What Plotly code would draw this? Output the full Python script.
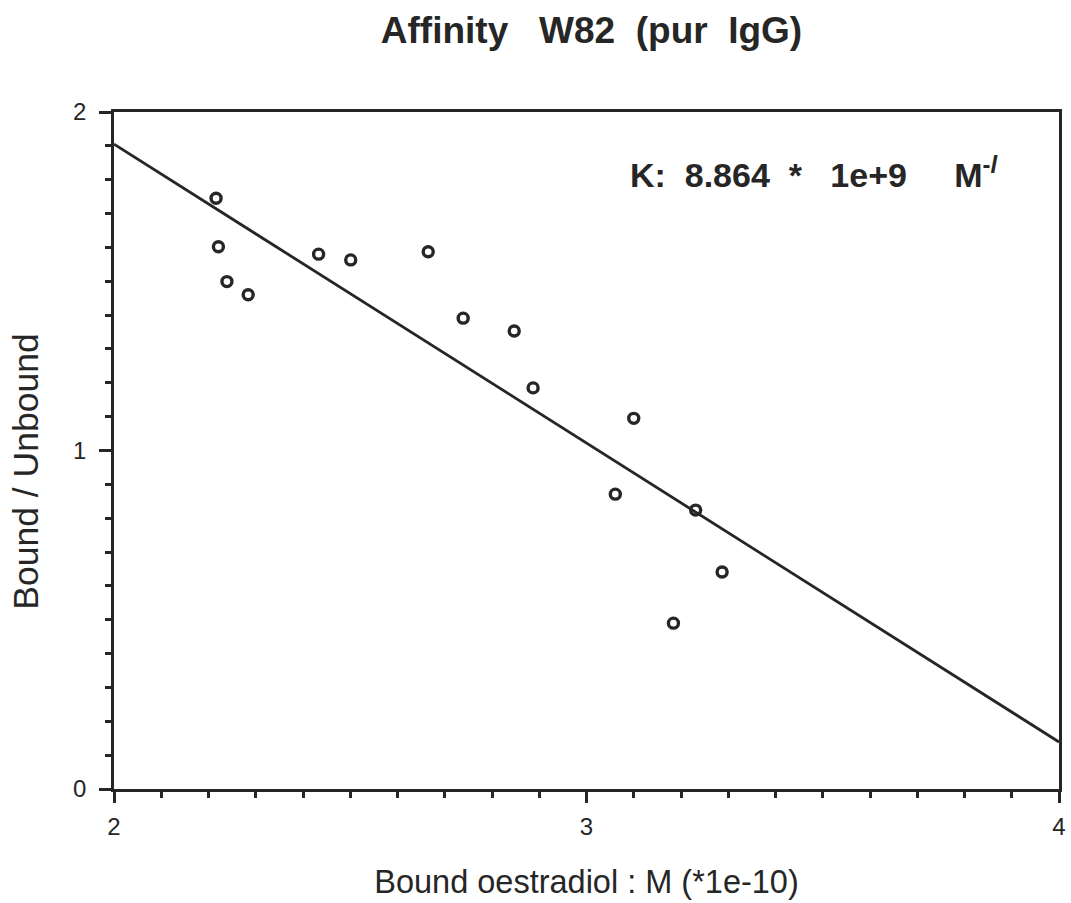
import plotly.graph_objects as go

# Data
bound_x = [2.216, 2.221, 2.239, 2.284, 2.433, 2.501, 2.665, 2.739, 2.847, 2.887,
           3.100, 3.061, 3.231, 3.287, 3.184]
ratio_y = [1.745, 1.602, 1.499, 1.460, 1.580, 1.563, 1.587, 1.391, 1.353, 1.185,
           1.095, 0.871, 0.824, 0.641, 0.490]
fit_x = [2.0, 4.0]
fit_y = [1.905, 0.139]

x_ticks = [2, 3, 4]
x_labels = ["2", "3", "4"]
y_ticks = [0, 1, 2]
y_labels = ["0", "1", "2"]

ink = "#262626"
font = "Liberation Sans, Arial, Helvetica, sans-serif"
sp = "\u00a0"
tickfont = dict(size=24, family=font, color=ink)

fig = go.Figure()
fig.add_trace(go.Scatter(x=fit_x, y=fit_y, mode="lines",
                         line=dict(color=ink, width=2.8), showlegend=False))
fig.add_trace(go.Scatter(x=bound_x, y=ratio_y, mode="markers",
                         marker=dict(symbol="circle-open", size=10,
                                     line=dict(color=ink, width=3.4), color=ink),
                         showlegend=False))

fig.update_layout(
    width=1071, height=903,
    margin=dict(l=114, r=5, t=112, b=114),
    paper_bgcolor="white", plot_bgcolor="white",
    font=dict(family=font, color=ink, size=24),
    title=dict(text="<b>Affinity" + sp * 3 + "W82" + sp * 2 + "(pur" + sp * 2 + "IgG)</b>",
               x=0.5523, xanchor="center", y=0.9668, yanchor="middle",
               font=dict(size=37, family=font, color=ink)),
    xaxis=dict(range=[2, 4], tickmode="array", tickvals=x_ticks, ticktext=x_labels,
               ticks="outside", ticklen=11,
               tickwidth=2.8, tickcolor=ink, showline=True, linecolor=ink,
               linewidth=2.8, mirror=True, showgrid=False, zeroline=False,
               ticklabelstandoff=3, tickfont=tickfont,
               minor=dict(dtick=0.1, ticks="outside", ticklen=6, tickwidth=2.8,
                          tickcolor=ink, showgrid=False),
               title=dict(text="Bound oestradiol : M (*1e-10)",
                          font=dict(size=32.5, family=font, color=ink), standoff=32)),
    yaxis=dict(range=[0, 2], tickmode="array", tickvals=y_ticks, ticktext=y_labels,
               ticks="outside", ticklen=12,
               tickwidth=2.8, tickcolor=ink, showline=True, linecolor=ink,
               linewidth=2.8, mirror=True, showgrid=False, zeroline=False,
               ticklabelstandoff=8, tickfont=tickfont,
               minor=dict(dtick=0.1, ticks="outside", ticklen=6, tickwidth=2.8,
                          tickcolor=ink, showgrid=False)),
)

# y-axis title (placed slightly below the plot centre, as in the reference)
fig.add_annotation(
    x=(25 - 114) / 952, y=(789 - 472) / 677, xref="paper", yref="paper",
    xanchor="center", yanchor="middle", showarrow=False, textangle=-90,
    text="Bound / Unbound", font=dict(size=35.5, family=font, color=ink),
)

fig.add_annotation(
    x=(632 - 114) / 952, y=(789 - 172) / 677, xref="paper", yref="paper",
    xanchor="left", yanchor="middle", showarrow=False,
    text="<b>K:" + sp * 2 + "8.864" + sp * 2 + "*" + sp * 3 + "1e+9" + sp * 5
         + "M<sup>-<i>l</i></sup></b>",
    font=dict(size=34, family=font, color=ink),
)

fig.write_html("out.html")
